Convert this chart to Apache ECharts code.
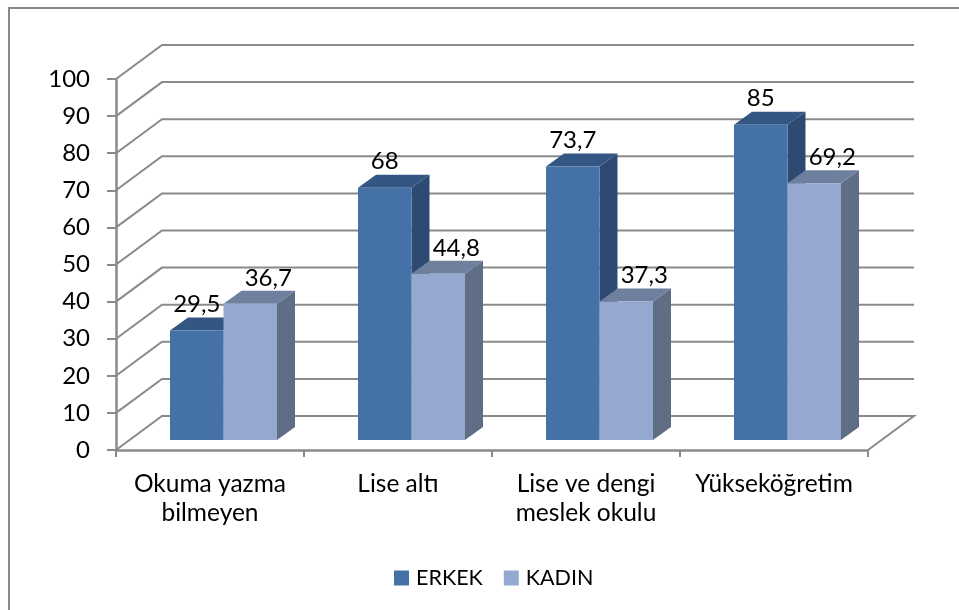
<!DOCTYPE html>
<html>
<head>
<meta charset="utf-8">
<style>
  html, body { margin: 0; padding: 0; background: #fff; }
  #chart { width: 959px; height: 610px; }
</style>
<script src="https://cdn.jsdelivr.net/npm/echarts@6/dist/echarts.min.js"></script>
</head>
<body>
<div id="chart"></div>
<script>
const categories = ["Okuma yazma\nbilmeyen", "Lise altı", "Lise ve dengi\nmeslek okulu", "Yükseköğretim"];
const erkek = [29.5, 68, 73.7, 85];
const kadin = [36.7, 44.8, 37.3, 69.2];
const yTicks = [0, 10, 20, 30, 40, 50, 60, 70, 80, 90, 100];

const FONT = 'Lato, "Noto Sans", sans-serif';
const GRAY = "#8a8a8a";
const WALL_DX = 46, WALL_DY = 34;   // back wall offset
const BASE_DX = 13.5, BASE_DY = 10; // bars stand a bit into the floor
const BAR_W = 53.5, DEPTH_X = 18, DEPTH_Y = 13;

function renderWall(params, api) {
  const rect = params.coordSys;
  const v = api.value(1);
  const y = api.coord([0, v])[1];
  const left = rect.x;
  const right = rect.x + rect.width;
  const points = [[left, y], [left + WALL_DX, y - WALL_DY], [right + WALL_DX, y - WALL_DY]];
  if (v === 0) points.push([right, y]);
  return {
    type: "polyline",
    shape: { points },
    style: { stroke: GRAY, lineWidth: 2, fill: null },
  };
}

function makeBarRenderer(front, top, side, isLeft, labelDx) {
  return function (params, api) {
    const base = api.coord([api.value(0), 0]);
    const peak = api.coord([api.value(0), api.value(1)]);
    const x0 = base[0] + BASE_DX - (isLeft ? BAR_W : 0);
    const x1 = x0 + BAR_W;
    const yb = base[1] - BASE_DY;
    const yt = peak[1] - BASE_DY;
    return {
      type: "group",
      children: [
        {
          type: "polygon",
          shape: { points: [[x1, yt], [x1 + DEPTH_X, yt - DEPTH_Y], [x1 + DEPTH_X, yb - DEPTH_Y], [x1, yb]] },
          style: { fill: side },
        },
        {
          type: "polygon",
          shape: { points: [[x0, yt], [x0 + DEPTH_X, yt - DEPTH_Y], [x1 + DEPTH_X, yt - DEPTH_Y], [x1, yt]] },
          style: { fill: top },
        },
        {
          type: "rect",
          shape: { x: x0, y: yt, width: BAR_W, height: yb - yt },
          style: { fill: front },
        },
        {
          type: "text",
          z2: 100,
          style: {
            x: (x0 + x1) / 2 + labelDx,
            y: yt - 26,
            text: String(api.value(1)).replace(".", ","),
            font: "24px " + FONT,
            fill: "#000",
            align: "center",
            verticalAlign: "middle",
          },
        },
      ],
    };
  };
}

const chart = echarts.init(document.getElementById("chart"), null, { renderer: "canvas" });
chart.setOption({
  animation: false,
  backgroundColor: "#fff",
  textStyle: { fontFamily: FONT },
  graphic: [
    {
      type: "polyline",
      shape: { points: [[9, 610], [9, 8], [959, 8]] },
      style: { stroke: GRAY, lineWidth: 2, fill: null },
    },
  ],
  grid: { left: 116, right: 91, top: 79, bottom: 160 },
  legend: {
    data: [
      { name: "ERKEK", icon: "rect" },
      { name: "KADIN", icon: "rect" },
    ],
    left: 389,
    top: 562,
    itemWidth: 15,
    itemHeight: 15,
    itemGap: 21,
    textStyle: { fontSize: 21.5, color: "#000", fontFamily: FONT, padding: [0, 0, 0, 2] },
  },
  xAxis: {
    type: "category",
    data: categories,
    axisLine: { show: true, lineStyle: { color: GRAY, width: 2.5 } },
    axisTick: { show: true, length: 7, lineStyle: { color: GRAY, width: 2 } },
    axisLabel: { interval: 0, fontSize: 24.5, color: "#000", margin: 20, lineHeight: 29, fontFamily: FONT },
  },
  yAxis: {
    type: "value",
    min: 0,
    max: 100,
    interval: 10,
    splitLine: { show: false },
    axisLine: { show: true, lineStyle: { color: GRAY, width: 2.5 } },
    axisTick: { show: true, length: 9, lineStyle: { color: GRAY, width: 2 } },
    axisLabel: { fontSize: 24, color: "#000", margin: 26, fontFamily: FONT, padding: [10, 0, 0, 0] },
  },
  series: [
    {
      name: "wall",
      type: "custom",
      silent: true,
      renderItem: renderWall,
      encode: { x: 0, y: 1 },
      data: yTicks.map((v) => [0, v]),
    },
    {
      name: "ERKEK",
      type: "custom",
      itemStyle: { color: "#4472A7" },
      renderItem: makeBarRenderer("#4472A7", "#345683", "#2D4A72", true, 0),
      encode: { x: 0, y: 1 },
      data: erkek.map((v, i) => [i, v]),
    },
    {
      name: "KADIN",
      type: "custom",
      itemStyle: { color: "#94A8D0" },
      renderItem: makeBarRenderer("#94A8D0", "#6F7F9E", "#5F6D85", false, 18),
      encode: { x: 0, y: 1 },
      data: kadin.map((v, i) => [i, v]),
    },
  ],
});
</script>
</body>
</html>
